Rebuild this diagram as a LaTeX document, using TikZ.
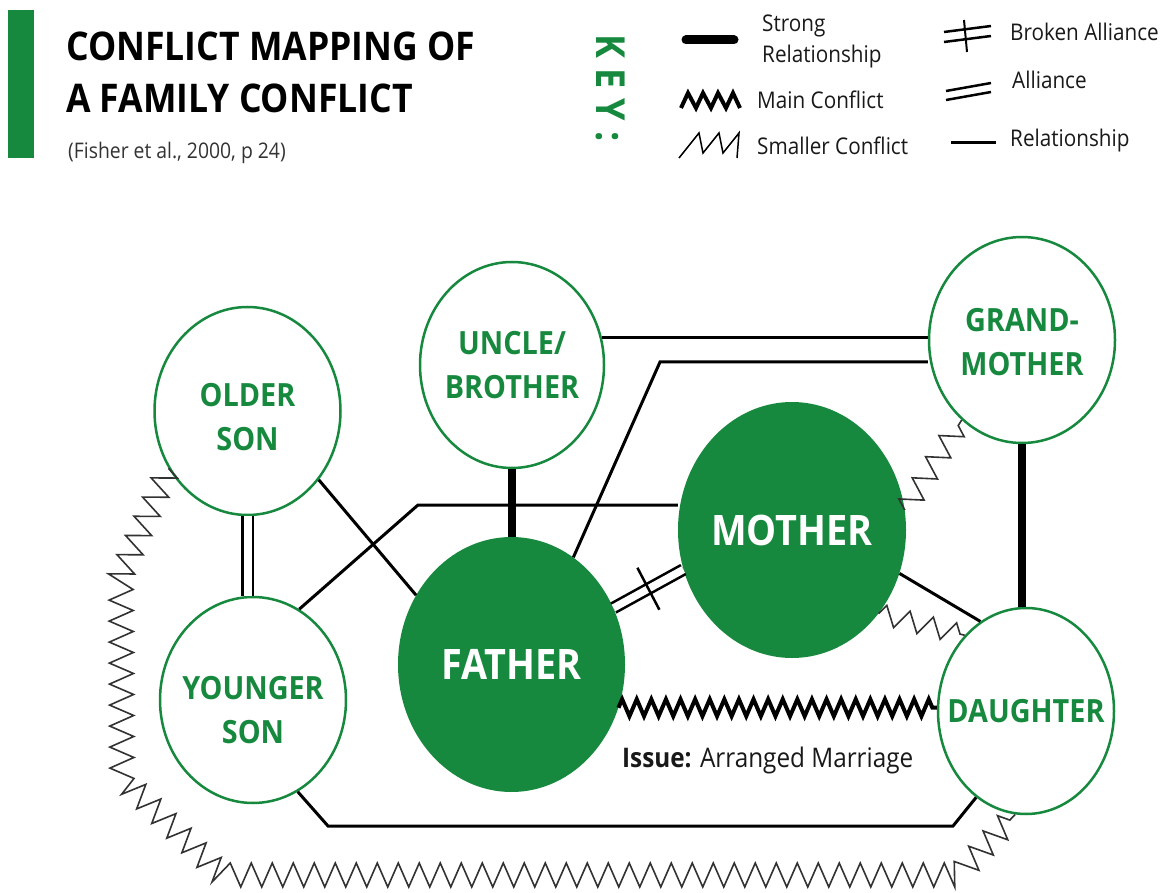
\documentclass[tikz,border=0pt]{standalone}
\usepackage{fontspec}
\setmainfont{Open Sans}[FakeStretch=0.9]
\usetikzlibrary{shapes.geometric,decorations.pathmorphing,calc}
\definecolor{cmgreen}{RGB}{22,137,62}
\definecolor{zig}{RGB}{50,50,50}
\tikzset{
  person/.style={ellipse, draw=cmgreen, line width=2.5pt, fill=white, inner sep=0pt},
  keyperson/.style={ellipse, fill=cmgreen, draw=none, inner sep=0pt},
  lbl/.style={font=\fontsize{32}{44}\selectfont\bfseries, text=cmgreen, align=center, inner sep=0pt},
  biglbl/.style={font=\fontsize{42}{50}\selectfont\bfseries, text=white, inner sep=0pt},
  rel/.style={line width=3pt},
  strongrel/.style={line width=8pt},
  ally/.style={line width=2.6pt, double=white, double distance=8pt},
  smallc/.style={zig, line width=1.6pt, line join=miter, decorate,
     decoration={zigzag, segment length=22pt, amplitude=8pt}},
  mainc/.style={line width=4pt, decorate,
     decoration={zigzag, segment length=14.6pt, amplitude=8.5pt}},
  keytxt/.style={font=\fontsize{23}{31}\selectfont, text=black!90, inner sep=0pt, align=left},
}
\begin{document}
\begin{tikzpicture}[x=1pt,y=-1pt]
\useasboundingbox[fill=white] (0,0) rectangle (1165,893);

% ---------- header ----------
\fill[cmgreen] (8,10) rectangle (34,158);
\node[anchor=base west, inner sep=0pt, font=\fontsize{39.5}{39.5}\selectfont\bfseries] (t1) at (66,61) {CONFLICT MAPPING OF};
\node[anchor=base west, inner sep=0pt, font=\fontsize{39.5}{39.5}\selectfont\bfseries] (t2) at (66,113) {A FAMILY CONFLICT};
\node[anchor=base west, inner sep=0pt, font=\fontsize{21.5}{21.5}\selectfont, text=black!80] (t3) at (68,159) {(Fisher et al., 2000, p 24)};

% ---------- key ----------
\node[rotate=-90, inner sep=0pt, font=\fontsize{40}{40}\selectfont\bfseries, text=cmgreen] (key) at (611,88) {K\kern10pt E\kern10pt Y\kern10pt :};

\draw[line width=9pt, line cap=round] (686,40) -- (734,40);
\node[keytxt, anchor=base west] (k1) at (762,32) {Strong};
\node[keytxt, anchor=base west] (k1b) at (762,63) {Relationship};

\draw[line width=4pt, line join=miter] (681,108) -- (688,93) -- (696,108) -- (703,93) -- (711,108) -- (718,93) -- (726,108) -- (733,93) -- (740,108);
\node[keytxt, anchor=base west] (k2) at (757,109) {Main Conflict};

\draw[line width=1.5pt, line join=miter] (679,158) -- (699,133) -- (703,153) -- (719,133) -- (723,153) -- (739,133) -- (737,158);
\node[keytxt, anchor=base west] (k3) at (757,155) {Smaller Conflict};

\draw[line width=2.5pt] (944,32) -- (991,26);
\draw[line width=2.5pt] (944,42) -- (991,36);
\draw[line width=2pt] (964,20) -- (967,52);
\node[keytxt, anchor=base west] (k4) at (1010,41) {Broken Alliance};

\draw[line width=2.5pt] (946,91) -- (991,83);
\draw[line width=2.5pt] (946,100) -- (991,92);
\node[keytxt, anchor=base west] (k5) at (1012,89) {Alliance};

\draw[line width=3pt] (951,143) -- (996,143);
\node[keytxt, anchor=base west] (k6) at (1010,147) {Relationship};

% ---------- nodes ----------
\node[person, minimum width=186pt, minimum height=208pt,
      label={[lbl, yshift=-6pt]center:OLDER\\SON}] (os) at (247.5,411) {};
\node[person, minimum width=184pt, minimum height=206pt,
      label={[lbl]center:UNCLE/\\BROTHER}] (ub) at (512,365) {};
\node[person, minimum width=186pt, minimum height=206pt,
      label={[lbl, yshift=-2pt]center:GRAND-\\MOTHER}] (gm) at (1022,340) {};
\node[keyperson, minimum width=228pt, minimum height=256pt,
      label={[biglbl]center:MOTHER}] (m) at (792,530) {};
\node[keyperson, minimum width=227pt, minimum height=255pt,
      label={[biglbl]center:FATHER}] (f) at (511.5,664.5) {};
\node[person, minimum width=186pt, minimum height=206pt,
      label={[lbl, yshift=-10pt]center:YOUNGER\\SON}] (ys) at (253,700) {};
\node[person, minimum width=176pt, minimum height=206pt,
      label={[lbl]center:DAUGHTER}] (d) at (1026,711) {};

% ---------- connectors ----------
\coordinate (c1) at (660,362);
\coordinate (c2) at (418,505);
\coordinate (c3) at (328,826);
\coordinate (c4) at (953,826);
\coordinate (z1) at (121,575);
\coordinate (z2) at (122,778);
\coordinate (z3) at (222,875);
\coordinate (z4) at (958,875);

\draw[rel] (ub.17) -- (ub.17 -| gm.west);
\draw[rel] (f.60) -- (c1) -- (c1 -| gm.west);
\draw[strongrel] (ub.south) -- (ub.south |- f.north);
\draw[rel] (ys.63) -- (c2) -- (c2 -| m.west);
\draw[rel] (os.-44) -- (f.144);
\draw[ally] (os.south) -- (os.south |- ys.north);
\draw[ally, double distance=7.5pt] (f.29) -- (m.200);
\draw[line width=2.5pt] ($(f.29)!0.5!(m.200)$) ++(-11,-21) -- ++(22,42);
\draw[rel] (m.-22) -- (d.117);
\draw[smallc, decoration={zigzag, segment length=24pt, amplitude=10pt}] (m.-44) -- (d.129);
\draw[smallc, decoration={zigzag, segment length=25pt, amplitude=11pt}] (m.10) -- (gm.233);
\draw[strongrel] (gm.south) -- (gm.south |- d.north);
\draw[mainc] (f.-22) -- (f.-22 -| d.west);
\draw[rel] (ys.-64) -- (c3) -- (c4) -- (d.240);
\draw[smallc, decoration={zigzag, segment length=21pt, amplitude=12pt}] (os.216) -- (z1) -- (z2) -- (z3) -- (z4) -- (d.264);

\node[anchor=base west, inner sep=0pt, font=\fontsize{27}{27}\selectfont, text=black!90] (iss) at (622,767) {\textbf{Issue:} Arranged Marriage};
\end{tikzpicture}
\end{document}
